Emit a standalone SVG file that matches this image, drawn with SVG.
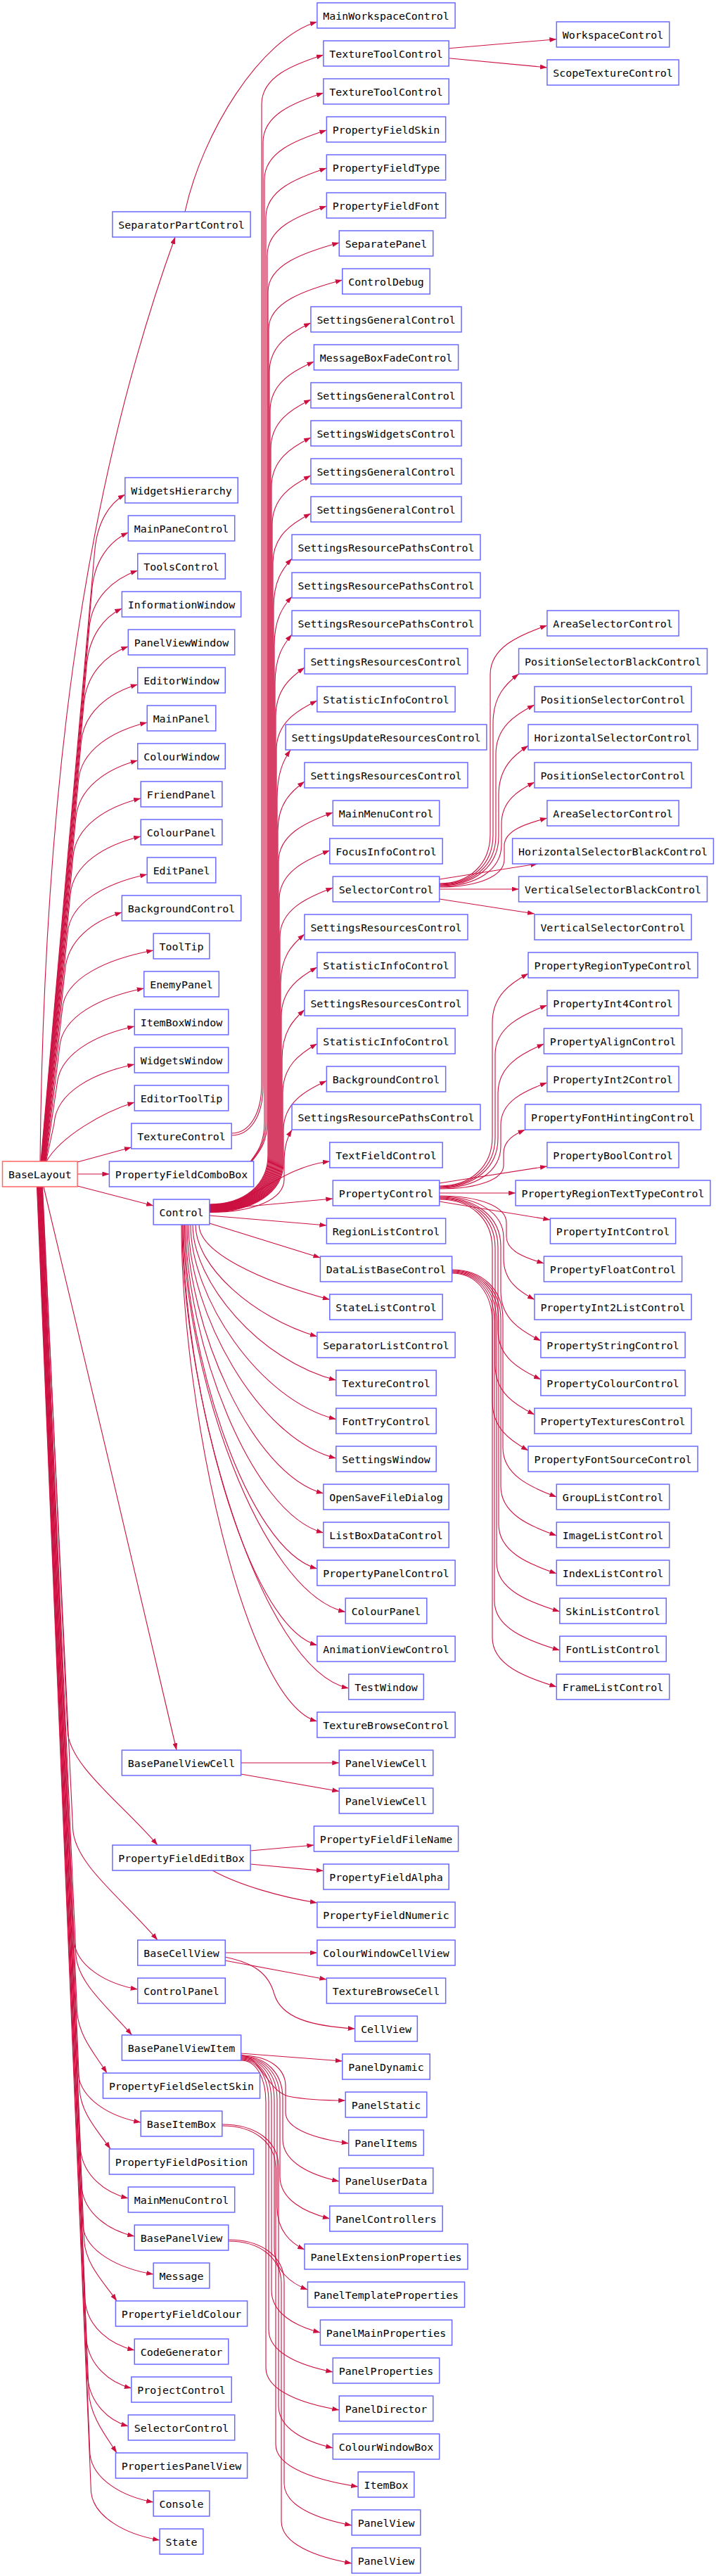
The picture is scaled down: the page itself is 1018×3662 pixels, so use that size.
<svg xmlns="http://www.w3.org/2000/svg" width="1018" height="3662" viewBox="0 0 1018 3662">
<defs>
<style>
.n rect{fill:#fff;stroke:#6a6aff;stroke-width:1.5}
.n.root rect{stroke:#ff6666}
.n text{font-family:"DejaVu Sans Mono","Liberation Mono",monospace;font-size:14.9px;fill:#000;text-anchor:middle}
.e path{fill:none;stroke:#cc1040;stroke-width:1.1;marker-end:url(#ah)}
</style>
<marker id="ah" viewBox="0 0 10 7" refX="10" refY="3.5" markerWidth="10" markerHeight="7" markerUnits="userSpaceOnUse" orient="auto"><path d="M0,0L10,3.5L0,7z" fill="#cc1040"/></marker>
</defs>
<rect x="0" y="0" width="1018" height="3662" fill="#fff"/>
<g id="edges" class="e">
<!-- BaseLayout -> col1 -->
<path d="M57,1651 C62,1151 113,713 249,337"/>
<path d="M58,1651 L134.3,787 C137.3,742 156.05,715 177.8,703"/>
<path d="M58.5,1651 L130.5,841 C133.5,796 156.4,769 182.3,757"/>
<path d="M59,1651 L126.7,895 C129.7,850 161.2,823 195.75,811"/>
<path d="M59.5,1651 L122.9,949 C125.9,904 148.1,877 173.35,865"/>
<path d="M60,1651 L119,1003 C122,958 150.65,931 182.3,919"/>
<path d="M60.5,1651 L115.2,1057 C118.2,1012 155.5,985 195.75,973"/>
<path d="M61,1651 L111.4,1111 C114.4,1066 160.3,1039 209.2,1027"/>
<path d="M61.5,1651 L107.6,1165 C110.6,1120 151.7,1093 195.75,1081"/>
<path d="M62,1651 L103.8,1219 C106.8,1174 152,1147 200.2,1135"/>
<path d="M62.5,1651 L99.9,1273 C102.9,1228 150.05,1201 200.2,1189"/>
<path d="M63,1651 L96.1,1327 C99.1,1282 152.65,1255 209.2,1243"/>
<path d="M63.5,1651 L92.3,1381 C95.3,1336 132.8,1309 173.35,1297"/>
<path d="M64,1651 L88.5,1435 C91.5,1390 153.3,1363 218.15,1351"/>
<path d="M64.5,1651 L84.7,1489 C87.7,1444 144.7,1417 204.7,1405"/>
<path d="M65,1651 L80.8,1543 C83.8,1498 136,1471 191.25,1459"/>
<path d="M65.5,1651 L77,1597 C80,1552 134.1,1525 191.25,1513"/>
<path d="M66,1651 C86,1616 146,1581 191.25,1567"/>
<path d="M110.1,1652 L186.8,1631"/>
<path d="M110.1,1669 L155.4,1669"/>
<path d="M110.1,1686 L218.15,1714"/>
<path d="M62,1687 C110,1890 220,2350 251,2488"/>
<path d="M60.5,1687 L96,2460 C98,2510 175,2565 224,2623"/>
<path d="M60,1687 L103.6,2600 C106,2650 175,2700 224,2758"/>
<path d="M59.5,1687 L105.2,2760 C109.2,2795 150.5,2820 195.75,2828"/>
<path d="M59,1687 L108,2780 C111,2820 155,2855 187.6,2893"/>
<path d="M58.5,1687 L109.6,2860 C112,2895 135,2920 152,2947"/>
<path d="M58,1687 L111.3,2949 C115.3,2984 155.8,3009 200.2,3017"/>
<path d="M57.5,1687 L113,2970 C115,3005 140,3030 157,3055"/>
<path d="M57,1687 L114.6,3057 C118.6,3092 148.5,3117 182.3,3125"/>
<path d="M56.5,1687 L116.3,3111 C120.3,3146 153.8,3171 191.25,3179"/>
<path d="M56,1687 L117.9,3165 C121.9,3200 168,3225 218.15,3233"/>
<path d="M55.5,1687 L119.6,3185 C122,3220 148,3245 166,3271"/>
<path d="M55,1687 L121.2,3273 C125.2,3308 156.2,3333 191.25,3341"/>
<path d="M54.5,1687 L122.9,3327 C126.9,3362 154.9,3387 186.8,3395"/>
<path d="M54,1687 L124.6,3381 C128.6,3416 153.5,3441 182.3,3449"/>
<path d="M53.5,1687 L126.2,3400 C128,3435 150,3462 166,3487"/>
<path d="M53,1687 L127.9,3489 C131.9,3524 173,3549 218.15,3557"/>
<path d="M52.5,1687 L129.5,3543 C133.5,3578 178.3,3603 227.1,3611"/>
<!-- SeparatorPartControl -->
<path d="M263,301 C287,190 370,55 450.9,31"/>
<!-- TextureControl -->
<path d="M329.2,1611 C354.9,1611 372,1583 372,1541 L372,148 C372,109.5 415.9,92 459.85,78"/>
<path d="M329.2,1614 C356.1,1614 374,1586 374,1544 L374,202 C374,163.5 416.9,146 459.85,132"/>
<!-- PropertyFieldComboBox -->
<path d="M356,1651 C366,1638 376,1625 376,1595 L376,255 C376,216.5 420.2,199 464.35,185"/>
<path d="M357,1651 C367,1638 378,1625 378,1595 L378,309 C378,270.5 421.2,253 464.35,239"/>
<path d="M358,1651 C368,1638 380,1625 380,1595 L380,363 C380,324.5 422.2,307 464.35,293"/>
<!-- Control up -->
<path d="M297.85,1712 C347.8,1712 381,1684 381,1642 L381,415 C381,376.5 431.6,359 482.25,345"/>
<path d="M297.85,1712.5 C348.4,1712.5 382,1684.5 382,1642.5 L382,468 C382,429.5 434.4,412 486.75,398"/>
<path d="M297.85,1713 C349,1713 383,1685 383,1643 L383,529 C383,490.5 412.5,473 441.95,459"/>
<path d="M297.85,1713.5 C349.6,1713.5 384,1685.5 384,1643.5 L384,584 C384,545.5 415.2,528 446.4,514"/>
<path d="M297.85,1714 C350.2,1714 385,1686 385,1644 L385,638 C385,599.5 413.5,582 441.95,568"/>
<path d="M297.85,1714.5 C350.8,1714.5 386,1686.5 386,1644.5 L386,692 C386,653.5 414,636 441.95,622"/>
<path d="M297.85,1715 C351.4,1715 387,1687 387,1645 L387,746 C387,707.5 414.5,690 441.95,676"/>
<path d="M297.85,1715.5 C352,1715.5 388,1687.5 388,1645.5 L388,800 C388,761.5 415,744 441.95,730"/>
<path d="M297.85,1716 C352.6,1716 389,1688 389,1646 L389,864 C389,825.5 402,808 415.05,794"/>
<path d="M297.85,1716.5 C353.2,1716.5 390,1688.5 390,1646.5 L390,918 C390,879.5 402.5,862 415.05,848"/>
<path d="M297.85,1717 C353.8,1717 391,1689 391,1647 L391,972 C391,933.5 403,916 415.05,902"/>
<path d="M297.85,1717.5 C354.4,1717.5 392,1689.5 392,1647.5 L392,1019 C392,980.5 412.5,963 433,949"/>
<path d="M297.85,1718 C355,1718 393,1690 393,1648 L393,1066 C393,1027.5 422,1010 450.9,996"/>
<path d="M297.85,1718.5 C355.6,1718.5 394,1690.5 394,1648.5 L394,1136 C394,1097.5 403.5,1080 413,1066"/>
<path d="M297.85,1719 C356.2,1719 395,1691 395,1649 L395,1181 C395,1142.5 414,1125 433,1111"/>
<path d="M297.85,1719.5 C356.8,1719.5 396,1691.5 396,1649.5 L396,1225 C396,1186.5 434.65,1169 473.3,1155"/>
<path d="M297.85,1720 C357.4,1720 397,1692 397,1650 L397,1279 C397,1240.5 432.9,1223 468.8,1209"/>
<path d="M297.85,1720.5 C358,1720.5 398,1692.5 398,1650.5 L398,1332 C398,1293.5 435.65,1276 473.3,1262"/>
<path d="M297.85,1721 C358.6,1721 399,1693 399,1651 L399,1398 C399,1359.5 416,1342 433,1328"/>
<path d="M297.85,1721.5 C359.2,1721.5 400,1693.5 400,1651.5 L400,1445 C400,1406.5 425.45,1389 450.9,1375"/>
<path d="M297.85,1722 C359.8,1722 401,1694 401,1652 L401,1505.5 C401,1467 417,1449.5 433,1435.5"/>
<path d="M297.85,1722.5 C360.4,1722.5 402,1694.5 402,1652.5 L402,1553.7 C402,1515.2 426.45,1497.7 450.9,1483.7"/>
<path d="M297.85,1723 C361,1723 403,1695 403,1653 L403,1606.5 C403,1568 433.7,1550.5 464.35,1536.5"/>
<path d="M297.85,1723.5 C361.6,1723.5 404,1704.7 404,1676.5 L404,1653 C404,1627.2 409.5,1615.4 415.05,1606"/>
<path d="M297.85,1718 C360,1712 395,1660 468.8,1651"/>
<path d="M297.85,1720 L473.3,1704"/>
<path d="M297.85,1728 L464.35,1742"/>
<path d="M297.85,1739 L455.4,1788"/>
<!-- Control down -->
<path d="M283,1741 C283,1780.4 370.3,1820.9 468.8,1847.5"/>
<path d="M278,1741 C278,1799.8 359.3,1873 450.9,1900"/>
<path d="M274,1741 C274,1822.8 369.8,1935 477.8,1962"/>
<path d="M271,1741 C271,1843.3 368.2,1990.6 477.8,2017.6"/>
<path d="M268,1741 C268,1863.8 366.6,2046 477.8,2073"/>
<path d="M266,1741 C266,1882.3 357.1,2096 459.85,2123"/>
<path d="M264,1741 C264,1903.1 356,2152 459.85,2179"/>
<path d="M262.5,1741 C262.5,1921.9 351.1,2203 450.9,2230"/>
<path d="M261,1741 C261,1944.7 369.2,2264.5 491.2,2291.5"/>
<path d="M260,1741 C260,1962.1 349.7,2311.7 450.9,2338.7"/>
<path d="M259,1741 C259,1984.8 370.2,2373 495.7,2400"/>
<path d="M258,1741 C258,2002.2 348.7,2420 450.9,2447"/>
<!-- TextureToolControl -->
<path d="M638.15,68.7 L791.3,55.7"/>
<path d="M638.15,82.7 L777.9,96"/>
<!-- SelectorControl -->
<path d="M624.7,1256 C668.1,1256 697,1228 697,1186 L697,959 C697,920.5 737.5,903 777.9,889"/>
<path d="M624.7,1257 C670.5,1257 701,1229 701,1187 L701,1028 C701,989.5 719.3,972 737.55,958"/>
<path d="M624.7,1258 C672.9,1258 705,1230 705,1188 L705,1072 C705,1033.5 732.5,1016 759.95,1002"/>
<path d="M624.7,1259 C675.3,1259 709,1231 709,1189 L709,1130 C709,1091.5 730,1074 751,1060"/>
<path d="M624.7,1260 C677.7,1260 713,1236.3 713,1200.8 L713,1171.2 C713,1138.6 736.5,1123.8 759.95,1112"/>
<path d="M624.7,1261 C680.1,1261 717,1245.3 717,1221.8 L717,1202.2 C717,1180.6 747.5,1170.8 777.9,1163"/>
<path d="M624.7,1250 L764.3,1228"/>
<path d="M624.7,1264 L737.55,1264"/>
<path d="M624.7,1278 L759.95,1299"/>
<!-- PropertyControl -->
<path d="M624.7,1686 C669.9,1686 700,1658 700,1616 L700,1454 C700,1415.5 725.5,1398 751,1384"/>
<path d="M624.7,1687 C672.3,1687 704,1659 704,1617 L704,1499 C704,1460.5 741,1443 777.9,1429"/>
<path d="M624.7,1688 C674.7,1688 708,1660 708,1618 L708,1554 C708,1515.5 740.7,1498 773.4,1484"/>
<path d="M624.7,1689 C677.1,1689 712,1665 712,1629 L712,1599 C712,1566 745,1551 777.9,1539"/>
<path d="M624.7,1690 C679.5,1690 716,1676.6 716,1656.4 L716,1639.6 C716,1621.1 731.3,1612.7 746.5,1606"/>
<path d="M624.7,1682 L777.9,1658"/>
<path d="M624.7,1696 L733.1,1696"/>
<path d="M624.7,1708 L782.35,1734"/>
<path d="M624.7,1700 C681.9,1700 720,1715.4 720,1738.4 L720,1757.6 C720,1778.7 746.7,1788.3 773.4,1796"/>
<path d="M624.7,1701 C679.5,1701 716,1724.4 716,1759.6 L716,1788.9 C716,1821.1 738,1835.8 759.95,1847.5"/>
<path d="M624.7,1702 C677.1,1702 712,1730 712,1772 L712,1836 C712,1874.5 740.5,1892 768.9,1906"/>
<path d="M624.7,1703 C674.7,1703 708,1731 708,1773 L708,1891 C708,1929.5 738.5,1947 768.9,1961"/>
<path d="M624.7,1704 C672.3,1704 704,1732 704,1774 L704,1941 C704,1979.5 732,1997 759.95,2011"/>
<path d="M624.7,1705 C669.9,1705 700,1733 700,1775 L700,1992 C700,2030.5 725.5,2048 751,2062"/>
<!-- DataListBaseControl -->
<path d="M642.6,1805 C686,1805 715,1833 715,1875 L715,2058 C715,2096.5 753.2,2114 791.3,2128"/>
<path d="M642.6,1806 C684.2,1806 712,1834 712,1876 L712,2113 C712,2151.5 751.7,2169 791.3,2183"/>
<path d="M642.6,1807 C682.4,1807 709,1835 709,1877 L709,2167 C709,2205.5 750.2,2223 791.3,2237"/>
<path d="M642.6,1808 C680.6,1808 706,1836 706,1878 L706,2221 C706,2259.5 750.9,2277 795.8,2291"/>
<path d="M642.6,1809 C678.8,1809 703,1837 703,1879 L703,2276 C703,2314.5 749.4,2332 795.8,2346"/>
<path d="M642.6,1810 C677,1810 700,1838 700,1880 L700,2328 C700,2366.5 745.7,2384 791.3,2398"/>
<!-- lower col1 -> col2 -->
<path d="M342.65,2506 L482.25,2506"/>
<path d="M342.65,2522 L482.25,2546.5"/>
<path d="M356.1,2631 L446.4,2623"/>
<path d="M356.1,2650 L459.85,2659.6"/>
<path d="M302,2659 C340,2680 400,2697 450.9,2705"/>
<path d="M319.65,2776 L450.9,2776"/>
<path d="M319.65,2787 L464.35,2814"/>
<path d="M319.65,2782 C360,2790 382,2805 390,2835 C400,2868 440,2880 504.65,2884"/>
<path d="M342.65,2919 L486.75,2930"/>
<path d="M342.65,2921 C372,2926 380,2972 410,2980 C440,2986 470,2986 491.2,2986"/>
<path d="M342.65,2922 C380.7,2922 406,2939.5 406,2965.75 L406,3003.25 C406,3027.3 450.85,3040.4 495.7,3047"/>
<path d="M342.65,2923 C378.3,2923 402,2947 402,2983 L402,3041 C402,3074 442.1,3092 482.25,3101"/>
<path d="M342.65,2924 C375.9,2924 398,2948 398,2984 L398,3094 C398,3127 433.4,3145 468.8,3154"/>
<path d="M342.65,2925 C373.5,2925 394,2949 394,2985 L394,3138 C394,3171 413.5,3189 433,3198"/>
<path d="M342.65,2926 C371.1,2926 390,2950 390,2986 L390,3195 C390,3228 413.7,3246 437.45,3255"/>
<path d="M342.65,2927 C368.7,2927 386,2951 386,2987 L386,3256 C386,3289 420.7,3307 455.4,3316"/>
<path d="M342.65,2928 C366.3,2928 382,2952 382,2988 L382,3312 C382,3345 427.65,3363 473.3,3372"/>
<path d="M342.65,2929 C363.9,2929 378,2953 378,2989 L378,3366 C378,3399 430.1,3417 482.25,3426"/>
<path d="M315.8,3020 C363.8,3020 396,3044 396,3080 L396,3420 C396,3453 434.65,3471 473.3,3480"/>
<path d="M315.8,3022 C361.5,3022 392,3046 392,3082 L392,3475 C392,3508 450.6,3526 509.15,3535"/>
<path d="M324.75,3184 C372.3,3184 404,3208 404,3244 L404,3530 C404,3563 452.1,3581 500.2,3590"/>
<path d="M324.75,3186 C370,3186 400,3210 400,3246 L400,3584 C400,3617 450.1,3635 500.2,3644"/>
</g>
<g id="nodes">
<g id="BaseLayout" class="n root"><rect x="3.5" y="1651" width="106.6" height="36"/><text x="56.8" y="1674.5">BaseLayout</text></g>
<g id="SeparatorPartControl" class="n"><rect x="159.9" y="301" width="196.2" height="36"/><text x="258" y="324.5">SeparatorPartControl</text></g>
<g id="WidgetsHierarchy" class="n"><rect x="177.8" y="679" width="160.4" height="36"/><text x="258" y="702.5">WidgetsHierarchy</text></g>
<g id="MainPaneControl" class="n"><rect x="182.3" y="733" width="151.4" height="36"/><text x="258" y="756.5">MainPaneControl</text></g>
<g id="ToolsControl" class="n"><rect x="195.75" y="787" width="124.5" height="36"/><text x="258" y="810.5">ToolsControl</text></g>
<g id="InformationWindow" class="n"><rect x="173.35" y="841" width="169.3" height="36"/><text x="258" y="864.5">InformationWindow</text></g>
<g id="PanelViewWindow" class="n"><rect x="182.3" y="895" width="151.4" height="36"/><text x="258" y="918.5">PanelViewWindow</text></g>
<g id="EditorWindow" class="n"><rect x="195.75" y="949" width="124.5" height="36"/><text x="258" y="972.5">EditorWindow</text></g>
<g id="MainPanel" class="n"><rect x="209.2" y="1003" width="97.6" height="36"/><text x="258" y="1026.5">MainPanel</text></g>
<g id="ColourWindow" class="n"><rect x="195.75" y="1057" width="124.5" height="36"/><text x="258" y="1080.5">ColourWindow</text></g>
<g id="FriendPanel" class="n"><rect x="200.2" y="1111" width="115.6" height="36"/><text x="258" y="1134.5">FriendPanel</text></g>
<g id="ColourPanel-1" class="n"><rect x="200.2" y="1165" width="115.6" height="36"/><text x="258" y="1188.5">ColourPanel</text></g>
<g id="EditPanel" class="n"><rect x="209.2" y="1219" width="97.6" height="36"/><text x="258" y="1242.5">EditPanel</text></g>
<g id="BackgroundControl-1" class="n"><rect x="173.35" y="1273" width="169.3" height="36"/><text x="258" y="1296.5">BackgroundControl</text></g>
<g id="ToolTip" class="n"><rect x="218.15" y="1327" width="79.7" height="36"/><text x="258" y="1350.5">ToolTip</text></g>
<g id="EnemyPanel" class="n"><rect x="204.7" y="1381" width="106.6" height="36"/><text x="258" y="1404.5">EnemyPanel</text></g>
<g id="ItemBoxWindow" class="n"><rect x="191.25" y="1435" width="133.5" height="36"/><text x="258" y="1458.5">ItemBoxWindow</text></g>
<g id="WidgetsWindow" class="n"><rect x="191.25" y="1489" width="133.5" height="36"/><text x="258" y="1512.5">WidgetsWindow</text></g>
<g id="EditorToolTip" class="n"><rect x="191.25" y="1543" width="133.5" height="36"/><text x="258" y="1566.5">EditorToolTip</text></g>
<g id="TextureControl-1" class="n"><rect x="186.8" y="1597" width="142.4" height="36"/><text x="258" y="1620.5">TextureControl</text></g>
<g id="PropertyFieldComboBox" class="n"><rect x="155.4" y="1651" width="205.2" height="36"/><text x="258" y="1674.5">PropertyFieldComboBox</text></g>
<g id="Control" class="n"><rect x="218.15" y="1705" width="79.7" height="36"/><text x="258" y="1728.5">Control</text></g>
<g id="BasePanelViewCell" class="n"><rect x="173.35" y="2488" width="169.3" height="36"/><text x="258" y="2511.5">BasePanelViewCell</text></g>
<g id="PropertyFieldEditBox" class="n"><rect x="159.9" y="2623" width="196.2" height="36"/><text x="258" y="2646.5">PropertyFieldEditBox</text></g>
<g id="BaseCellView" class="n"><rect x="195.75" y="2758" width="124.5" height="36"/><text x="258" y="2781.5">BaseCellView</text></g>
<g id="ControlPanel" class="n"><rect x="195.75" y="2812" width="124.5" height="36"/><text x="258" y="2835.5">ControlPanel</text></g>
<g id="BasePanelViewItem" class="n"><rect x="173.35" y="2893" width="169.3" height="36"/><text x="258" y="2916.5">BasePanelViewItem</text></g>
<g id="PropertyFieldSelectSkin" class="n"><rect x="146.45" y="2947" width="223.1" height="36"/><text x="258" y="2970.5">PropertyFieldSelectSkin</text></g>
<g id="BaseItemBox" class="n"><rect x="200.2" y="3001" width="115.6" height="36"/><text x="258" y="3024.5">BaseItemBox</text></g>
<g id="PropertyFieldPosition" class="n"><rect x="155.4" y="3055" width="205.2" height="36"/><text x="258" y="3078.5">PropertyFieldPosition</text></g>
<g id="MainMenuControl-1" class="n"><rect x="182.3" y="3109" width="151.4" height="36"/><text x="258" y="3132.5">MainMenuControl</text></g>
<g id="BasePanelView" class="n"><rect x="191.25" y="3163" width="133.5" height="36"/><text x="258" y="3186.5">BasePanelView</text></g>
<g id="Message" class="n"><rect x="218.15" y="3217" width="79.7" height="36"/><text x="258" y="3240.5">Message</text></g>
<g id="PropertyFieldColour" class="n"><rect x="164.4" y="3271" width="187.2" height="36"/><text x="258" y="3294.5">PropertyFieldColour</text></g>
<g id="CodeGenerator" class="n"><rect x="191.25" y="3325" width="133.5" height="36"/><text x="258" y="3348.5">CodeGenerator</text></g>
<g id="ProjectControl" class="n"><rect x="186.8" y="3379" width="142.4" height="36"/><text x="258" y="3402.5">ProjectControl</text></g>
<g id="SelectorControl-1" class="n"><rect x="182.3" y="3433" width="151.4" height="36"/><text x="258" y="3456.5">SelectorControl</text></g>
<g id="PropertiesPanelView" class="n"><rect x="164.4" y="3487" width="187.2" height="36"/><text x="258" y="3510.5">PropertiesPanelView</text></g>
<g id="Console" class="n"><rect x="218.15" y="3541" width="79.7" height="36"/><text x="258" y="3564.5">Console</text></g>
<g id="State" class="n"><rect x="227.1" y="3595" width="61.8" height="36"/><text x="258" y="3618.5">State</text></g>

<g id="MainWorkspaceControl" class="n"><rect x="450.9" y="4" width="196.2" height="36"/><text x="549" y="27.5">MainWorkspaceControl</text></g>
<g id="TextureToolControl-1" class="n"><rect x="459.85" y="58" width="178.3" height="36"/><text x="549" y="81.5">TextureToolControl</text></g>
<g id="TextureToolControl-2" class="n"><rect x="459.85" y="112" width="178.3" height="36"/><text x="549" y="135.5">TextureToolControl</text></g>
<g id="PropertyFieldSkin" class="n"><rect x="464.35" y="166" width="169.3" height="36"/><text x="549" y="189.5">PropertyFieldSkin</text></g>
<g id="PropertyFieldType" class="n"><rect x="464.35" y="220" width="169.3" height="36"/><text x="549" y="243.5">PropertyFieldType</text></g>
<g id="PropertyFieldFont" class="n"><rect x="464.35" y="274" width="169.3" height="36"/><text x="549" y="297.5">PropertyFieldFont</text></g>
<g id="SeparatePanel" class="n"><rect x="482.25" y="328" width="133.5" height="36"/><text x="549" y="351.5">SeparatePanel</text></g>
<g id="ControlDebug" class="n"><rect x="486.75" y="382" width="124.5" height="36"/><text x="549" y="405.5">ControlDebug</text></g>
<g id="SettingsGeneralControl-1" class="n"><rect x="441.95" y="436" width="214.1" height="36"/><text x="549" y="459.5">SettingsGeneralControl</text></g>
<g id="MessageBoxFadeControl" class="n"><rect x="446.4" y="490" width="205.2" height="36"/><text x="549" y="513.5">MessageBoxFadeControl</text></g>
<g id="SettingsGeneralControl-2" class="n"><rect x="441.95" y="544" width="214.1" height="36"/><text x="549" y="567.5">SettingsGeneralControl</text></g>
<g id="SettingsWidgetsControl" class="n"><rect x="441.95" y="598" width="214.1" height="36"/><text x="549" y="621.5">SettingsWidgetsControl</text></g>
<g id="SettingsGeneralControl-3" class="n"><rect x="441.95" y="652" width="214.1" height="36"/><text x="549" y="675.5">SettingsGeneralControl</text></g>
<g id="SettingsGeneralControl-4" class="n"><rect x="441.95" y="706" width="214.1" height="36"/><text x="549" y="729.5">SettingsGeneralControl</text></g>
<g id="SettingsResourcePathsControl-1" class="n"><rect x="415.05" y="760" width="267.9" height="36"/><text x="549" y="783.5">SettingsResourcePathsControl</text></g>
<g id="SettingsResourcePathsControl-2" class="n"><rect x="415.05" y="814" width="267.9" height="36"/><text x="549" y="837.5">SettingsResourcePathsControl</text></g>
<g id="SettingsResourcePathsControl-3" class="n"><rect x="415.05" y="868" width="267.9" height="36"/><text x="549" y="891.5">SettingsResourcePathsControl</text></g>
<g id="SettingsResourcesControl-1" class="n"><rect x="433" y="922" width="232" height="36"/><text x="549" y="945.5">SettingsResourcesControl</text></g>
<g id="StatisticInfoControl-1" class="n"><rect x="450.9" y="976" width="196.2" height="36"/><text x="549" y="999.5">StatisticInfoControl</text></g>
<g id="SettingsUpdateResourcesControl" class="n"><rect x="406.1" y="1030" width="285.8" height="36"/><text x="549" y="1053.5">SettingsUpdateResourcesControl</text></g>
<g id="SettingsResourcesControl-2" class="n"><rect x="433" y="1084" width="232" height="36"/><text x="549" y="1107.5">SettingsResourcesControl</text></g>
<g id="MainMenuControl-2" class="n"><rect x="473.3" y="1138" width="151.4" height="36"/><text x="549" y="1161.5">MainMenuControl</text></g>
<g id="FocusInfoControl" class="n"><rect x="468.8" y="1192" width="160.4" height="36"/><text x="549" y="1215.5">FocusInfoControl</text></g>
<g id="SelectorControl-2" class="n"><rect x="473.3" y="1246" width="151.4" height="36"/><text x="549" y="1269.5">SelectorControl</text></g>
<g id="SettingsResourcesControl-3" class="n"><rect x="433" y="1300" width="232" height="36"/><text x="549" y="1323.5">SettingsResourcesControl</text></g>
<g id="StatisticInfoControl-2" class="n"><rect x="450.9" y="1354" width="196.2" height="36"/><text x="549" y="1377.5">StatisticInfoControl</text></g>
<g id="SettingsResourcesControl-4" class="n"><rect x="433" y="1408" width="232" height="36"/><text x="549" y="1431.5">SettingsResourcesControl</text></g>
<g id="StatisticInfoControl-3" class="n"><rect x="450.9" y="1462" width="196.2" height="36"/><text x="549" y="1485.5">StatisticInfoControl</text></g>
<g id="BackgroundControl-2" class="n"><rect x="464.35" y="1516" width="169.3" height="36"/><text x="549" y="1539.5">BackgroundControl</text></g>
<g id="SettingsResourcePathsControl-4" class="n"><rect x="415.05" y="1570" width="267.9" height="36"/><text x="549" y="1593.5">SettingsResourcePathsControl</text></g>
<g id="TextFieldControl" class="n"><rect x="468.8" y="1624" width="160.4" height="36"/><text x="549" y="1647.5">TextFieldControl</text></g>
<g id="PropertyControl" class="n"><rect x="473.3" y="1678" width="151.4" height="36"/><text x="549" y="1701.5">PropertyControl</text></g>
<g id="RegionListControl" class="n"><rect x="464.35" y="1732" width="169.3" height="36"/><text x="549" y="1755.5">RegionListControl</text></g>
<g id="DataListBaseControl" class="n"><rect x="455.4" y="1786" width="187.2" height="36"/><text x="549" y="1809.5">DataListBaseControl</text></g>
<g id="StateListControl" class="n"><rect x="468.8" y="1840" width="160.4" height="36"/><text x="549" y="1863.5">StateListControl</text></g>
<g id="SeparatorListControl" class="n"><rect x="450.9" y="1894" width="196.2" height="36"/><text x="549" y="1917.5">SeparatorListControl</text></g>
<g id="TextureControl-2" class="n"><rect x="477.8" y="1948" width="142.4" height="36"/><text x="549" y="1971.5">TextureControl</text></g>
<g id="FontTryControl" class="n"><rect x="477.8" y="2002" width="142.4" height="36"/><text x="549" y="2025.5">FontTryControl</text></g>
<g id="SettingsWindow" class="n"><rect x="477.8" y="2056" width="142.4" height="36"/><text x="549" y="2079.5">SettingsWindow</text></g>
<g id="OpenSaveFileDialog" class="n"><rect x="459.85" y="2110" width="178.3" height="36"/><text x="549" y="2133.5">OpenSaveFileDialog</text></g>
<g id="ListBoxDataControl" class="n"><rect x="459.85" y="2164" width="178.3" height="36"/><text x="549" y="2187.5">ListBoxDataControl</text></g>
<g id="PropertyPanelControl" class="n"><rect x="450.9" y="2218" width="196.2" height="36"/><text x="549" y="2241.5">PropertyPanelControl</text></g>
<g id="ColourPanel-2" class="n"><rect x="491.2" y="2272" width="115.6" height="36"/><text x="549" y="2295.5">ColourPanel</text></g>
<g id="AnimationViewControl" class="n"><rect x="450.9" y="2326" width="196.2" height="36"/><text x="549" y="2349.5">AnimationViewControl</text></g>
<g id="TestWindow" class="n"><rect x="495.7" y="2380" width="106.6" height="36"/><text x="549" y="2403.5">TestWindow</text></g>
<g id="TextureBrowseControl" class="n"><rect x="450.9" y="2434" width="196.2" height="36"/><text x="549" y="2457.5">TextureBrowseControl</text></g>
<g id="PanelViewCell-1" class="n"><rect x="482.25" y="2488" width="133.5" height="36"/><text x="549" y="2511.5">PanelViewCell</text></g>
<g id="PanelViewCell-2" class="n"><rect x="482.25" y="2542" width="133.5" height="36"/><text x="549" y="2565.5">PanelViewCell</text></g>
<g id="PropertyFieldFileName" class="n"><rect x="446.4" y="2596" width="205.2" height="36"/><text x="549" y="2619.5">PropertyFieldFileName</text></g>
<g id="PropertyFieldAlpha" class="n"><rect x="459.85" y="2650" width="178.3" height="36"/><text x="549" y="2673.5">PropertyFieldAlpha</text></g>
<g id="PropertyFieldNumeric" class="n"><rect x="450.9" y="2704" width="196.2" height="36"/><text x="549" y="2727.5">PropertyFieldNumeric</text></g>
<g id="ColourWindowCellView" class="n"><rect x="450.9" y="2758" width="196.2" height="36"/><text x="549" y="2781.5">ColourWindowCellView</text></g>
<g id="TextureBrowseCell" class="n"><rect x="464.35" y="2812" width="169.3" height="36"/><text x="549" y="2835.5">TextureBrowseCell</text></g>
<g id="CellView" class="n"><rect x="504.65" y="2866" width="88.7" height="36"/><text x="549" y="2889.5">CellView</text></g>
<g id="PanelDynamic" class="n"><rect x="486.75" y="2920" width="124.5" height="36"/><text x="549" y="2943.5">PanelDynamic</text></g>
<g id="PanelStatic" class="n"><rect x="491.2" y="2974" width="115.6" height="36"/><text x="549" y="2997.5">PanelStatic</text></g>
<g id="PanelItems" class="n"><rect x="495.7" y="3028" width="106.6" height="36"/><text x="549" y="3051.5">PanelItems</text></g>
<g id="PanelUserData" class="n"><rect x="482.25" y="3082" width="133.5" height="36"/><text x="549" y="3105.5">PanelUserData</text></g>
<g id="PanelControllers" class="n"><rect x="468.8" y="3136" width="160.4" height="36"/><text x="549" y="3159.5">PanelControllers</text></g>
<g id="PanelExtensionProperties" class="n"><rect x="433" y="3190" width="232" height="36"/><text x="549" y="3213.5">PanelExtensionProperties</text></g>
<g id="PanelTemplateProperties" class="n"><rect x="437.45" y="3244" width="223.1" height="36"/><text x="549" y="3267.5">PanelTemplateProperties</text></g>
<g id="PanelMainProperties" class="n"><rect x="455.4" y="3298" width="187.2" height="36"/><text x="549" y="3321.5">PanelMainProperties</text></g>
<g id="PanelProperties" class="n"><rect x="473.3" y="3352" width="151.4" height="36"/><text x="549" y="3375.5">PanelProperties</text></g>
<g id="PanelDirector" class="n"><rect x="482.25" y="3406" width="133.5" height="36"/><text x="549" y="3429.5">PanelDirector</text></g>
<g id="ColourWindowBox" class="n"><rect x="473.3" y="3460" width="151.4" height="36"/><text x="549" y="3483.5">ColourWindowBox</text></g>
<g id="ItemBox" class="n"><rect x="509.15" y="3514" width="79.7" height="36"/><text x="549" y="3537.5">ItemBox</text></g>
<g id="PanelView-1" class="n"><rect x="500.2" y="3568" width="97.6" height="36"/><text x="549" y="3591.5">PanelView</text></g>
<g id="PanelView-2" class="n"><rect x="500.2" y="3622" width="97.6" height="36"/><text x="549" y="3645.5">PanelView</text></g>

<g id="WorkspaceControl" class="n"><rect x="791.3" y="31" width="160.4" height="36"/><text x="871.5" y="54.5">WorkspaceControl</text></g>
<g id="ScopeTextureControl" class="n"><rect x="777.9" y="85" width="187.2" height="36"/><text x="871.5" y="108.5">ScopeTextureControl</text></g>
<g id="AreaSelectorControl-1" class="n"><rect x="777.9" y="868" width="187.2" height="36"/><text x="871.5" y="891.5">AreaSelectorControl</text></g>
<g id="PositionSelectorBlackControl" class="n"><rect x="737.55" y="922" width="267.9" height="36"/><text x="871.5" y="945.5">PositionSelectorBlackControl</text></g>
<g id="PositionSelectorControl-1" class="n"><rect x="759.95" y="976" width="223.1" height="36"/><text x="871.5" y="999.5">PositionSelectorControl</text></g>
<g id="HorizontalSelectorControl" class="n"><rect x="751" y="1030" width="241" height="36"/><text x="871.5" y="1053.5">HorizontalSelectorControl</text></g>
<g id="PositionSelectorControl-2" class="n"><rect x="759.95" y="1084" width="223.1" height="36"/><text x="871.5" y="1107.5">PositionSelectorControl</text></g>
<g id="AreaSelectorControl-2" class="n"><rect x="777.9" y="1138" width="187.2" height="36"/><text x="871.5" y="1161.5">AreaSelectorControl</text></g>
<g id="HorizontalSelectorBlackControl" class="n"><rect x="728.6" y="1192" width="285.8" height="36"/><text x="871.5" y="1215.5">HorizontalSelectorBlackControl</text></g>
<g id="VerticalSelectorBlackControl" class="n"><rect x="737.55" y="1246" width="267.9" height="36"/><text x="871.5" y="1269.5">VerticalSelectorBlackControl</text></g>
<g id="VerticalSelectorControl" class="n"><rect x="759.95" y="1300" width="223.1" height="36"/><text x="871.5" y="1323.5">VerticalSelectorControl</text></g>
<g id="PropertyRegionTypeControl" class="n"><rect x="751" y="1354" width="241" height="36"/><text x="871.5" y="1377.5">PropertyRegionTypeControl</text></g>
<g id="PropertyInt4Control" class="n"><rect x="777.9" y="1408" width="187.2" height="36"/><text x="871.5" y="1431.5">PropertyInt4Control</text></g>
<g id="PropertyAlignControl" class="n"><rect x="773.4" y="1462" width="196.2" height="36"/><text x="871.5" y="1485.5">PropertyAlignControl</text></g>
<g id="PropertyInt2Control" class="n"><rect x="777.9" y="1516" width="187.2" height="36"/><text x="871.5" y="1539.5">PropertyInt2Control</text></g>
<g id="PropertyFontHintingControl" class="n"><rect x="746.5" y="1570" width="250" height="36"/><text x="871.5" y="1593.5">PropertyFontHintingControl</text></g>
<g id="PropertyBoolControl" class="n"><rect x="777.9" y="1624" width="187.2" height="36"/><text x="871.5" y="1647.5">PropertyBoolControl</text></g>
<g id="PropertyRegionTextTypeControl" class="n"><rect x="733.1" y="1678" width="276.8" height="36"/><text x="871.5" y="1701.5">PropertyRegionTextTypeControl</text></g>
<g id="PropertyIntControl" class="n"><rect x="782.35" y="1732" width="178.3" height="36"/><text x="871.5" y="1755.5">PropertyIntControl</text></g>
<g id="PropertyFloatControl" class="n"><rect x="773.4" y="1786" width="196.2" height="36"/><text x="871.5" y="1809.5">PropertyFloatControl</text></g>
<g id="PropertyInt2ListControl" class="n"><rect x="759.95" y="1840" width="223.1" height="36"/><text x="871.5" y="1863.5">PropertyInt2ListControl</text></g>
<g id="PropertyStringControl" class="n"><rect x="768.9" y="1894" width="205.2" height="36"/><text x="871.5" y="1917.5">PropertyStringControl</text></g>
<g id="PropertyColourControl" class="n"><rect x="768.9" y="1948" width="205.2" height="36"/><text x="871.5" y="1971.5">PropertyColourControl</text></g>
<g id="PropertyTexturesControl" class="n"><rect x="759.95" y="2002" width="223.1" height="36"/><text x="871.5" y="2025.5">PropertyTexturesControl</text></g>
<g id="PropertyFontSourceControl" class="n"><rect x="751" y="2056" width="241" height="36"/><text x="871.5" y="2079.5">PropertyFontSourceControl</text></g>
<g id="GroupListControl" class="n"><rect x="791.3" y="2110" width="160.4" height="36"/><text x="871.5" y="2133.5">GroupListControl</text></g>
<g id="ImageListControl" class="n"><rect x="791.3" y="2164" width="160.4" height="36"/><text x="871.5" y="2187.5">ImageListControl</text></g>
<g id="IndexListControl" class="n"><rect x="791.3" y="2218" width="160.4" height="36"/><text x="871.5" y="2241.5">IndexListControl</text></g>
<g id="SkinListControl" class="n"><rect x="795.8" y="2272" width="151.4" height="36"/><text x="871.5" y="2295.5">SkinListControl</text></g>
<g id="FontListControl" class="n"><rect x="795.8" y="2326" width="151.4" height="36"/><text x="871.5" y="2349.5">FontListControl</text></g>
<g id="FrameListControl" class="n"><rect x="791.3" y="2380" width="160.4" height="36"/><text x="871.5" y="2403.5">FrameListControl</text></g>
</g>
</svg>
